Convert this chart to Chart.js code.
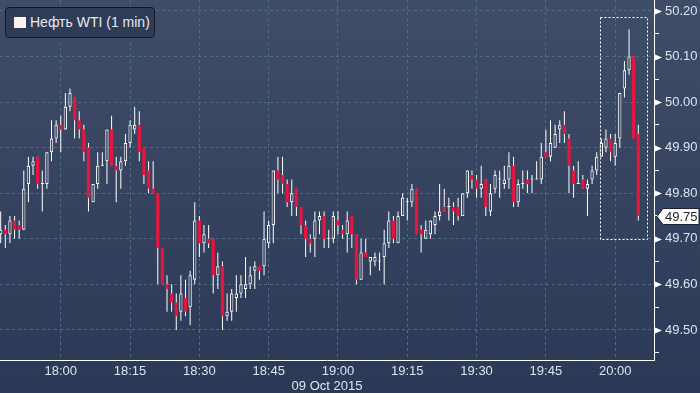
<!DOCTYPE html>
<html>
<head>
<meta charset="utf-8">
<script src="https://cdn.jsdelivr.net/npm/chart.js@4.4.0/dist/chart.umd.min.js"></script>
<style>
  html, body { margin: 0; padding: 0; background: #2c3956; }
  #wrap { position: relative; width: 700px; height: 393px; }
  #legend {
    position: absolute; left: 5px; top: 7px; width: 150px; height: 31px;
    box-sizing: border-box; border: 1px solid #131826; border-radius: 4px;
    background: #2f3c58; color: #e4e9f1; padding-left: 8px;
    font: 14px "Liberation Sans", Arial, sans-serif; line-height: 29px; white-space: nowrap;
  }
  #legend .sw { display: inline-block; width: 12px; height: 11px; background: #fff1ec; vertical-align: -1px; margin-right: 4px; }
</style>
</head>
<body>
<div id="wrap">
  <canvas id="chart" width="700" height="393"></canvas>
  <div id="legend"><span class="sw"></span>Нефть WTI (1 min)</div>
</div>
<script>
// 1-minute WTI bars, 09 Oct 2015, first bar at 17:47
const firstBar = 17 * 60 + 47;
const open  = [49.71,49.72,49.71,49.74,49.73,49.72,49.82,49.86,49.88,49.82,49.82,49.89,49.92,49.95,49.94,49.99,50.01,49.96,49.94,49.90,
               49.78,49.82,49.86,49.87,49.94,49.86,49.85,49.87,49.91,49.94,49.95,49.90,49.85,49.81,49.80,49.68,49.60,49.58,49.56,49.54,
               49.57,49.55,49.61,49.74,49.69,49.70,49.70,49.62,49.64,49.53,49.54,49.57,49.58,49.59,49.60,49.63,49.64,49.64,49.69,49.73,
               49.85,49.84,49.82,49.78,49.81,49.77,49.73,49.70,49.70,49.74,49.75,49.70,49.70,49.74,49.72,49.71,49.75,49.71,49.61,49.67,
               49.65,49.65,49.65,49.66,49.69,49.74,49.69,49.75,49.78,49.78,49.81,49.72,49.70,49.71,49.73,49.75,49.77,49.77,49.77,49.77,
               49.75,49.80,49.84,49.83,49.81,49.83,49.76,49.81,49.83,49.82,49.83,49.86,49.78,49.82,49.83,49.83,49.83,49.83,49.89,49.88,
               49.90,49.94,49.95,49.92,49.85,49.82,49.83,49.81,49.83,49.85,49.88,49.90,49.92,49.88,49.92,50.03,50.07,50.10,49.93];
const high  = [49.76,49.73,49.75,49.75,49.74,49.85,49.88,49.88,49.88,49.85,49.89,49.96,49.96,49.97,50.02,50.03,50.01,49.98,49.95,49.91,
               49.82,49.89,49.89,49.94,49.97,49.88,49.88,49.93,49.96,49.99,49.98,49.90,49.87,49.87,49.80,49.68,49.62,49.60,49.58,49.62,
               49.61,49.63,49.78,49.75,49.73,49.73,49.70,49.67,49.65,49.58,49.59,49.62,49.62,49.66,49.64,49.65,49.64,49.76,49.74,49.85,
               49.88,49.88,49.83,49.83,49.81,49.77,49.74,49.71,49.76,49.76,49.76,49.72,49.76,49.76,49.73,49.76,49.75,49.71,49.70,49.70,
               49.66,49.67,49.67,49.72,49.76,49.75,49.76,49.80,49.79,49.82,49.81,49.73,49.74,49.74,49.76,49.82,49.81,49.79,49.78,49.79,
               49.80,49.85,49.85,49.84,49.86,49.83,49.82,49.85,49.85,49.86,49.89,49.88,49.83,49.85,49.85,49.84,49.87,49.91,49.94,49.96,
               49.95,49.96,49.98,49.93,49.86,49.87,49.84,49.83,49.86,49.89,49.92,49.94,49.93,49.93,50.02,50.09,50.16,50.10,49.95];
const low   = [49.69,49.68,49.69,49.70,49.70,49.72,49.78,49.84,49.81,49.76,49.81,49.87,49.91,49.89,49.94,49.98,49.92,49.92,49.87,49.76,
               49.78,49.81,49.86,49.82,49.86,49.78,49.81,49.86,49.90,49.93,49.87,49.82,49.80,49.80,49.60,49.60,49.54,49.54,49.50,49.52,
               49.53,49.51,49.60,49.66,49.67,49.68,49.58,49.59,49.50,49.52,49.52,49.54,49.57,49.57,49.59,49.59,49.61,49.62,49.68,49.69,
               49.80,49.80,49.77,49.75,49.75,49.71,49.66,49.67,49.66,49.71,49.68,49.68,49.69,49.71,49.70,49.67,49.68,49.60,49.61,49.66,
               49.62,49.64,49.63,49.60,49.68,49.69,49.69,49.75,49.74,49.77,49.71,49.67,49.70,49.70,49.71,49.74,49.76,49.74,49.73,49.74,
               49.75,49.79,49.81,49.79,49.79,49.75,49.75,49.80,49.79,49.81,49.81,49.77,49.77,49.81,49.80,49.80,49.83,49.82,49.88,49.87,
               49.90,49.91,49.91,49.80,49.79,49.82,49.81,49.75,49.82,49.84,49.88,49.89,49.87,49.86,49.90,50.01,50.06,49.92,49.74];
const close = [49.72,49.71,49.74,49.72,49.72,49.81,49.86,49.87,49.82,49.82,49.89,49.92,49.95,49.94,49.99,50.02,49.96,49.94,49.89,49.79,
               49.82,49.86,49.86,49.94,49.86,49.85,49.87,49.91,49.95,49.95,49.89,49.84,49.81,49.80,49.68,49.60,49.59,49.56,49.53,49.58,
               49.54,49.62,49.74,49.69,49.71,49.69,49.62,49.64,49.53,49.54,49.58,49.58,49.60,49.60,49.62,49.64,49.63,49.70,49.73,49.85,
               49.83,49.82,49.78,49.80,49.77,49.73,49.70,49.69,49.74,49.75,49.70,49.70,49.75,49.73,49.71,49.74,49.71,49.61,49.67,49.66,
               49.66,49.66,49.65,49.69,49.74,49.70,49.75,49.79,49.78,49.81,49.71,49.71,49.72,49.74,49.75,49.76,49.76,49.77,49.76,49.75,
               49.80,49.85,49.83,49.81,49.82,49.77,49.80,49.84,49.83,49.83,49.86,49.78,49.82,49.82,49.82,49.83,49.83,49.88,49.88,49.91,
               49.93,49.95,49.93,49.86,49.82,49.82,49.81,49.82,49.85,49.88,49.91,49.92,49.89,49.91,50.02,50.07,50.10,49.92,49.75];

const tickLabels = ['18:00','18:15','18:30','18:45','19:00','19:15','19:30','19:45','20:00'];
const dateLabel = '09 Oct 2015';
const priceTicks = [49.50, 49.60, 49.70, 49.80, 49.90, 50.00, 50.10, 50.20];
// dotted highlight around the last bars (minutes of day, price)
const boxMinutes = [1196.7, 1206.9];
const boxPrices = [49.70, 50.186];

const RED = '#e2163f';
const WHITE = '#ffffff';
const GRID = '#4f6c86';

const minutes = open.map((_, i) => firstBar + i);
const bodies = minutes.map((m, i) => ({ x: m, y: [open[i], close[i]] }));
const wicks = minutes.map((m, i) => ({ x: m, y: [low[i], high[i]] }));
const isDown = i => close[i] < open[i];
const isMajor = v => priceTicks.some(p => Math.abs(p - v) < 1e-6);

let bgGrad = null;
function getGrad(chart) {
  if (!bgGrad) {
    bgGrad = chart.ctx.createLinearGradient(0, 0, 0, chart.height);
    bgGrad.addColorStop(0, '#3f4d69');
    bgGrad.addColorStop(1, '#2c3956');
  }
  return bgGrad;
}

// no label overhang padding: plot area must touch the canvas top/left
function noPad(s) {
  s.paddingTop = 0; s.paddingBottom = 0; s.paddingLeft = 0; s.paddingRight = 0;
}

const bgPlugin = {
  id: 'bg',
  beforeDraw(chart) {
    const c = chart.ctx;
    c.save();
    c.fillStyle = getGrad(chart);
    c.fillRect(0, 0, chart.width, chart.height);
    c.restore();
  }
};

const decoPlugin = {
  id: 'deco',
  afterDatasetsDraw(chart) {
    const c = chart.ctx;
    const xs = chart.scales.x, ys = chart.scales.y;
    // dotted box
    const x1 = Math.round(xs.getPixelForValue(boxMinutes[0])) + 0.5;
    const x2 = Math.round(xs.getPixelForValue(boxMinutes[1])) + 0.5;
    const y1 = Math.round(ys.getPixelForValue(boxPrices[1])) + 0.5;
    const y2 = Math.round(ys.getPixelForValue(boxPrices[0])) + 0.5;
    c.save();
    c.strokeStyle = WHITE;
    c.lineWidth = 1;
    c.setLineDash([2, 2]);
    c.strokeRect(x1, y1, x2 - x1, y2 - y1);
    c.restore();
  },
  afterDraw(chart) {
    const c = chart.ctx;
    const ys = chart.scales.y;
    const ax = chart.chartArea.right;
    c.save();
    // arrow markers on major ticks
    c.fillStyle = WHITE;
    priceTicks.forEach(p => {
      const y = Math.round(ys.getPixelForValue(p)) + 0.5;
      c.beginPath();
      c.moveTo(ax + 1, y - 3);
      c.lineTo(ax + 8, y);
      c.lineTo(ax + 1, y + 3);
      c.closePath();
      c.fill();
    });
    // last price tag
    const last = close[close.length - 1];
    const y = Math.round(ys.getPixelForValue(last)) + 0.5;
    c.beginPath();
    c.moveTo(ax + 3, y);
    c.lineTo(ax + 9, y - 8);
    c.lineTo(chart.width - 1, y - 8);
    c.lineTo(chart.width - 1, y + 8);
    c.lineTo(ax + 9, y + 8);
    c.closePath();
    c.fillStyle = '#fffaf4';
    c.fill();
    c.strokeStyle = '#1c2233';
    c.stroke();
    c.fillStyle = '#1b2236';
    c.font = '13px "Liberation Sans", Arial, sans-serif';
    c.textBaseline = 'middle';
    c.fillText(last.toFixed(2), ax + 11, y + 1);
    c.restore();
  }
};

new Chart(document.getElementById('chart'), {
  type: 'bar',
  data: {
    datasets: [
      {
        label: 'body',
        data: bodies,
        order: 0,
        grouped: false,
        maxBarThickness: 4,
        minBarLength: 1,
        borderSkipped: false,
        backgroundColor: ctx => isDown(ctx.dataIndex) ? RED : getGrad(ctx.chart),
        borderColor: ctx => isDown(ctx.dataIndex) ? RED : WHITE,
        borderWidth: ctx => isDown(ctx.dataIndex) ? 0 : 1
      },
      {
        label: 'wick',
        data: wicks,
        order: 1,
        grouped: false,
        maxBarThickness: 1,
        borderSkipped: false,
        backgroundColor: WHITE,
        borderWidth: 0
      }
    ]
  },
  options: {
    responsive: false,
    animation: false,
    devicePixelRatio: 1,
    layout: { padding: 0, autoPadding: false },
    plugins: { legend: { display: false }, tooltip: { enabled: false } },
    scales: {
      x: {
        type: 'linear',
        offset: false,
        min: 1066.85,
        max: 1208.4,
        afterFit: s => { s.height = 33; noPad(s); },
        grid: { color: GRID, drawTicks: false, lineWidth: 1, offset: false },
        border: { display: true, color: WHITE, width: 1, dash: [3, 3] },
        ticks: {
          stepSize: 15,
          includeBounds: false,
          autoSkip: false,
          maxRotation: 0,
          padding: 4,
          color: '#dde3ec',
          font: { family: '"Liberation Sans Narrow", "Liberation Sans", Arial, sans-serif', size: 13 },
          callback: v => tickLabels[Math.round((v - 1080) / 15)] || ''
        },
        title: {
          display: true,
          text: dateLabel,
          color: '#dde3ec',
          padding: { top: 0, bottom: 0 },
          font: { family: '"Liberation Sans Narrow", "Liberation Sans", Arial, sans-serif', size: 13, lineHeight: 1 }
        }
      },
      y: {
        position: 'right',
        min: 49.434,
        max: 50.224,
        afterFit: s => { s.width = 46; noPad(s); },
        grid: {
          color: ctx => isMajor(ctx.tick.value) ? GRID : 'rgba(0,0,0,0)',
          tickColor: ctx => isMajor(ctx.tick.value) ? 'rgba(0,0,0,0)' : WHITE,
          tickLength: 5,
          drawTicks: true
        },
        border: { display: true, color: WHITE, width: 1, dash: [3, 3] },
        ticks: {
          stepSize: 0.05,
          includeBounds: false,
          autoSkip: false,
          padding: 6,
          color: '#dde3ec',
          font: { family: '"Liberation Sans", Arial, sans-serif', size: 13 },
          callback: v => isMajor(v) ? v.toFixed(2) : ''
        }
      }
    }
  },
  plugins: [bgPlugin, decoPlugin]
});
</script>
</body>
</html>
